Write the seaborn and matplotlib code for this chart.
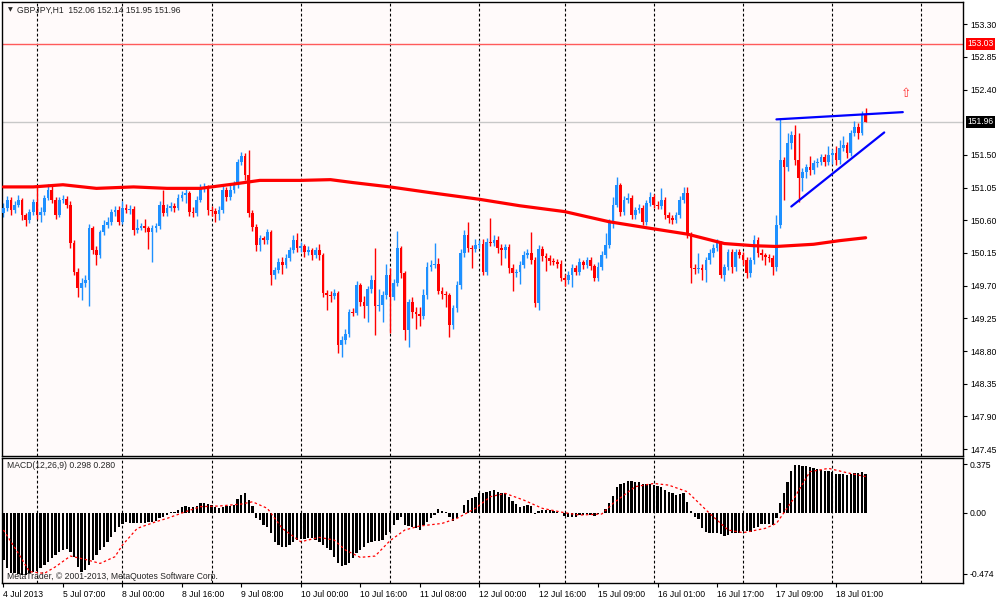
import matplotlib
matplotlib.use('Agg')
import matplotlib.pyplot as plt
import matplotlib.transforms as mtransforms
import numpy as np
import seaborn as sns

sns.set_style('white')
plt.rcParams['font.family'] = ['Liberation Sans', 'DejaVu Sans']

# GBPJPY H1 candles, 4 Jul 15:00 .. 18 Jul 09:00
first_open = 150.70
closes = [
    150.77, 150.88, 150.74, 150.81, 150.88, 150.67, 150.60, 150.71, 150.85, 150.67,
    150.71, 150.91, 151.02, 150.88, 150.67, 150.88, 150.89, 150.81, 150.29, 149.89,
    149.67, 149.74, 149.78, 150.49, 150.19, 150.12, 150.44, 150.54, 150.58, 150.71,
    150.74, 150.58, 150.77, 150.74, 150.76, 150.47, 150.49, 150.52, 150.49, 150.44,
    150.49, 150.52, 150.81, 150.70, 150.77, 150.80, 150.77, 150.91, 150.95, 150.98,
    150.71, 150.70, 150.88, 151.04, 151.06, 150.74, 150.73, 150.69, 150.74, 151.02,
    150.92, 151.02, 151.09, 151.40, 151.49, 151.22, 150.70, 150.51, 150.26, 150.36,
    150.33, 150.44, 149.85, 149.92, 150.03, 149.98, 150.08, 150.19, 150.33, 150.22,
    150.25, 150.16, 150.19, 150.12, 150.19, 150.12, 149.60, 149.57, 149.56, 149.60,
    148.88, 148.95, 149.03, 149.34, 149.33, 149.71, 149.47, 149.42, 149.65, 149.78,
    149.42, 149.43, 149.57, 149.85, 149.54, 149.74, 150.22, 149.87, 149.09, 149.47,
    149.34, 149.31, 149.28, 149.57, 149.96, 149.99, 150.00, 149.63, 149.58, 149.57,
    149.16, 149.39, 149.71, 150.15, 150.40, 150.22, 150.20, 150.26, 150.28, 149.89,
    150.30, 150.29, 150.33, 150.22, 150.19, 150.23, 149.94, 149.87, 149.89, 149.98,
    150.12, 150.15, 150.05, 149.46, 150.20, 150.11, 150.08, 150.04, 150.03, 150.00,
    149.81, 149.78, 149.85, 149.94, 149.89, 150.03, 149.98, 150.05, 149.97, 149.81,
    149.96, 150.12, 150.26, 150.56, 150.81, 151.09, 150.71, 150.88, 150.91, 150.67,
    150.74, 150.77, 150.58, 150.84, 150.92, 150.81, 150.80, 150.88, 150.67, 150.63,
    150.60, 150.67, 150.88, 150.98, 150.40, 149.94, 149.93, 149.95, 149.92, 150.05,
    150.15, 150.22, 150.29, 149.85, 149.96, 150.16, 149.96, 150.16, 150.12, 150.05,
    149.87, 150.05, 150.33, 150.15, 150.12, 150.09, 150.08, 149.96, 150.54, 151.43,
    151.33, 151.66, 151.77, 151.43, 151.18, 151.27, 151.33, 151.29, 151.39, 151.40,
    151.47, 151.40, 151.50, 151.53, 151.43, 151.60, 151.64, 151.53, 151.80, 151.89,
    151.80, 152.06, 151.96,
]
highs = [
    150.84, 150.93, 150.92, 150.87, 150.95, 150.91, 150.70, 150.75, 150.90, 151.06,
    150.78, 150.95, 151.10, 151.08, 150.92, 150.92, 150.95, 150.94, 150.86, 150.33,
    149.95, 149.80, 149.84, 150.55, 150.52, 150.24, 150.47, 150.60, 150.65, 150.76,
    150.80, 150.80, 150.86, 150.82, 150.81, 150.80, 150.62, 150.56, 150.62, 150.52,
    150.53, 150.56, 150.86, 151.02, 150.82, 150.85, 150.84, 150.96, 151.00, 151.03,
    151.01, 150.78, 150.93, 151.10, 151.12, 151.08, 150.80, 150.77, 150.80, 151.07,
    151.06, 151.08, 151.14, 151.45, 151.54, 151.53, 151.57, 150.74, 150.55, 150.40,
    150.38, 150.48, 150.47, 149.96, 150.08, 150.10, 150.13, 150.23, 150.40, 150.42,
    150.30, 150.28, 150.24, 150.22, 150.23, 150.28, 150.15, 149.64, 149.62, 149.65,
    149.63, 149.00, 149.10, 149.38, 149.39, 149.76, 149.74, 149.56, 149.70, 149.84,
    150.22, 149.66, 149.62, 150.00, 149.94, 149.79, 150.45, 150.25, 149.90, 149.52,
    149.55, 149.40, 149.40, 149.65, 150.03, 150.05, 150.29, 150.08, 149.68, 149.62,
    149.60, 149.44, 149.76, 150.20, 150.46, 150.58, 150.26, 150.34, 150.33, 150.34,
    150.36, 150.63, 150.40, 150.38, 150.28, 150.28, 150.27, 150.00, 149.93, 150.04,
    150.18, 150.20, 150.44, 150.10, 150.26, 150.24, 150.15, 150.12, 150.08, 150.07,
    150.05, 149.86, 149.90, 150.00, 149.98, 150.08, 150.06, 150.10, 150.09, 150.00,
    150.02, 150.18, 150.42, 150.62, 150.92, 151.20, 151.12, 150.93, 150.97, 150.95,
    150.79, 150.83, 150.81, 150.88, 150.99, 150.96, 150.86, 151.05, 150.92, 150.71,
    150.68, 150.72, 150.93, 151.06, 151.06, 150.44, 150.00, 150.15, 150.00, 150.10,
    150.20, 150.27, 150.34, 150.32, 150.00, 150.20, 150.20, 150.20, 150.20, 150.16,
    150.09, 150.10, 150.40, 150.37, 150.20, 150.15, 150.14, 150.12, 150.67, 152.01,
    151.47, 151.80, 151.83, 151.91, 151.80, 151.32, 151.38, 151.48, 151.43, 151.46,
    151.52, 151.52, 151.62, 151.58, 151.62, 151.70, 151.76, 151.68, 151.85, 151.97,
    151.94, 152.10, 152.14,
]
lows = [
    150.64, 150.73, 150.68, 150.70, 150.78, 150.60, 150.52, 150.56, 150.68, 150.62,
    150.58, 150.68, 150.88, 150.84, 150.62, 150.64, 150.84, 150.77, 150.22, 149.85,
    149.54, 149.50, 149.68, 149.42, 150.14, 149.98, 150.08, 150.40, 150.50, 150.54,
    150.66, 150.53, 150.55, 150.70, 150.69, 150.40, 150.42, 150.46, 150.44, 150.20,
    150.02, 150.44, 150.48, 150.66, 150.66, 150.73, 150.72, 150.74, 150.87, 150.84,
    150.66, 150.64, 150.66, 150.85, 150.99, 150.68, 150.66, 150.57, 150.60, 150.70,
    150.86, 150.88, 150.98, 151.05, 151.36, 151.16, 150.64, 150.45, 150.18, 150.18,
    150.28, 150.28, 149.71, 149.79, 149.88, 149.86, 149.94, 150.04, 150.15, 150.16,
    150.17, 150.10, 150.12, 150.06, 150.08, 150.06, 149.55, 149.36, 149.48, 149.52,
    148.77, 148.72, 148.90, 148.99, 149.28, 149.30, 149.42, 149.25, 149.20, 149.60,
    149.02, 149.35, 149.20, 149.52, 149.05, 149.50, 149.70, 149.80, 148.95, 148.85,
    149.25, 149.10, 149.14, 149.24, 149.52, 149.90, 149.94, 149.58, 149.52, 149.40,
    148.99, 149.10, 149.34, 149.66, 150.10, 150.16, 149.95, 150.16, 150.22, 149.84,
    149.85, 150.25, 150.25, 150.15, 149.98, 150.08, 149.88, 149.62, 149.82, 149.72,
    149.95, 150.08, 150.00, 149.40, 149.37, 150.04, 149.90, 149.98, 149.98, 149.94,
    149.76, 149.70, 149.72, 149.68, 149.84, 149.84, 149.93, 149.94, 149.92, 149.76,
    149.77, 149.92, 150.08, 150.22, 150.50, 150.78, 150.66, 150.67, 150.84, 150.62,
    150.62, 150.70, 150.54, 150.54, 150.80, 150.77, 150.75, 150.76, 150.62, 150.56,
    150.55, 150.56, 150.63, 150.84, 150.35, 149.74, 149.86, 149.88, 149.78, 149.75,
    150.00, 150.10, 150.18, 149.80, 149.76, 149.92, 149.88, 149.90, 150.08, 149.98,
    149.80, 149.82, 150.00, 150.10, 150.06, 149.98, 150.02, 149.85, 149.90, 150.50,
    150.88, 151.28, 151.58, 151.36, 150.85, 151.00, 151.18, 151.22, 151.24, 151.34,
    151.36, 151.35, 151.36, 151.38, 151.36, 151.38, 151.55, 151.46, 151.48, 151.76,
    151.72, 151.78, 151.95,
]

# moving average (thick red line), read at a few bars
ma_bars = [0, 8, 16, 25, 35, 44, 53, 62, 69, 80, 88, 94, 104, 115, 128, 139,
           151, 163, 174, 184, 194, 202, 208, 218, 225, 232]
ma_values = [151.06, 151.06, 151.09, 151.04, 151.06, 151.04, 151.04, 151.10,
             151.15, 151.15, 151.16, 151.12, 151.06, 150.98, 150.89, 150.80,
             150.72, 150.58, 150.49, 150.41, 150.28, 150.25, 150.24, 150.27,
             150.32, 150.36]

# MACD(12,26,9) histogram, one value per candle
macd_hist = [
    -0.367, -0.432, -0.465, -0.470, -0.475, -0.483, -0.483, -0.470, -0.457, -0.450,
    -0.432, -0.406, -0.380, -0.354, -0.328, -0.302, -0.289, -0.284, -0.302, -0.341,
    -0.419, -0.457, -0.444, -0.406, -0.367, -0.328, -0.289, -0.264, -0.225, -0.186,
    -0.147, -0.114, -0.088, -0.070, -0.078, -0.078, -0.078, -0.078, -0.078, -0.070,
    -0.070, -0.062, -0.044, -0.031, -0.018, 0.002, 0.008, 0.021, 0.041, 0.052,
    0.047, 0.047, 0.052, 0.072, 0.072, 0.067, 0.059, 0.041, 0.034, 0.047,
    0.052, 0.052, 0.059, 0.103, 0.137, 0.150, 0.098, 0.052, -0.044, -0.057,
    -0.096, -0.109, -0.155, -0.225, -0.251, -0.264, -0.264, -0.251, -0.225, -0.212,
    -0.207, -0.207, -0.199, -0.199, -0.212, -0.225, -0.251, -0.276, -0.289, -0.341,
    -0.393, -0.413, -0.406, -0.388, -0.354, -0.315, -0.289, -0.264, -0.238, -0.225,
    -0.220, -0.220, -0.212, -0.173, -0.147, -0.096, -0.057, -0.031, -0.096, -0.103,
    -0.109, -0.121, -0.134, -0.096, -0.070, -0.044, -0.018, 0.026, 0.016, 0.008,
    -0.031, -0.062, -0.044, -0.005, 0.059, 0.098, 0.116, 0.124, 0.155, 0.150,
    0.163, 0.171, 0.176, 0.163, 0.155, 0.150, 0.119, 0.093, 0.067, 0.047,
    0.052, 0.059, 0.052, -0.010, 0.016, 0.021, 0.021, 0.021, 0.016, 0.008,
    -0.005, -0.026, -0.036, -0.031, -0.036, -0.018, -0.018, -0.013, -0.018, -0.023,
    -0.010, 0.000, 0.026, 0.078, 0.129, 0.202, 0.220, 0.233, 0.248, 0.248,
    0.240, 0.240, 0.220, 0.220, 0.220, 0.214, 0.207, 0.202, 0.176, 0.163,
    0.150, 0.137, 0.145, 0.150, 0.085, 0.016, -0.031, -0.052, -0.121, -0.147,
    -0.155, -0.155, -0.155, -0.168, -0.181, -0.173, -0.160, -0.160, -0.160, -0.142,
    -0.140, -0.147, -0.121, -0.114, -0.088, -0.088, -0.088, -0.096, -0.044, 0.072,
    0.155, 0.240, 0.326, 0.370, 0.370, 0.364, 0.362, 0.357, 0.344, 0.336,
    0.331, 0.326, 0.326, 0.318, 0.300, 0.300, 0.300, 0.292, 0.300, 0.305,
    0.305, 0.318, 0.298,
]
signal_bars = [0, 4, 7, 11, 14, 18, 22, 26, 30, 32, 36, 41, 44, 49, 53, 58, 64,
               67, 71, 75, 80, 85, 89, 92, 96, 100, 104, 108, 112, 118, 122, 127,
               131, 135, 140, 145, 151, 155, 161, 164, 170, 175, 179, 184, 190,
               195, 199, 205, 208, 213, 217, 222, 227, 232]
signal_values = [-0.134, -0.315, -0.457, -0.470, -0.419, -0.336, -0.362, -0.393,
                 -0.341, -0.251, -0.121, -0.070, -0.044, 0.008, 0.047, 0.052,
                 0.067, 0.085, 0.034, -0.121, -0.225, -0.191, -0.212, -0.289,
                 -0.346, -0.336, -0.217, -0.134, -0.103, -0.083, -0.044, 0.034,
                 0.124, 0.150, 0.098, 0.034, 0.000, -0.018, -0.010, 0.072, 0.202,
                 0.227, 0.214, 0.163, -0.005, -0.134, -0.155, -0.121, -0.083,
                 0.124, 0.318, 0.344, 0.310, 0.280]

time_ticks = [0, 16, 32, 48, 64, 80, 96, 112, 128, 144, 160, 176, 192, 208, 224]
time_labels = ['4 Jul 2013', '5 Jul 07:00', '8 Jul 00:00', '8 Jul 16:00',
               '9 Jul 08:00', '10 Jul 00:00', '10 Jul 16:00', '11 Jul 08:00',
               '12 Jul 00:00', '12 Jul 16:00', '15 Jul 09:00', '16 Jul 01:00',
               '16 Jul 17:00', '17 Jul 09:00', '18 Jul 01:00']
day_starts = [9, 32, 56, 80, 104, 128, 151, 175, 199, 223, 247]
price_ticks = [153.30, 152.85, 152.40, 151.50, 151.05, 150.60, 150.15,
               149.70, 149.25, 148.80, 148.35, 147.90, 147.45]
macd_ticks = [0.375, 0.0, -0.474]
macd_tick_labels = ['0.375', '0.00', '-0.474']
level_price = 153.03
last_price = 151.96
upper_bars, upper_prices = [208, 242], [151.99, 152.09]
lower_bars, lower_prices = [212, 237], [150.79, 151.81]
arrow_bar, arrow_price = 242.8, 152.35

BULL = '#1E90FF'
BEAR = '#FF0000'
BG = '#FFFAFA'
FS = 6.2

fig = plt.figure(figsize=(10, 6), dpi=100)
fig.patch.set_facecolor('white')
ax = fig.add_axes([0.002, 0.24, 0.961, 0.7567])
axm = fig.add_axes([0.002, 0.0283, 0.961, 0.2083])

# ---- price panel
ax.set_facecolor(BG)
n = len(closes)
idx = np.arange(n)
opens = np.array([first_open] + closes[:-1])
c = np.array(closes)
up = c >= opens
colors = np.where(up, BULL, BEAR)
body_low = np.minimum(opens, c)
body_h = np.maximum(np.abs(c - opens), 0.012)

for b in day_starts:
    ax.axvline(b, color='black', lw=0.8, ls=(0, (2.5, 2)), zorder=1)
ax.axhline(level_price, color='#FF5A5A', lw=1, zorder=1)
ax.axhline(last_price, color='#C8C8C8', lw=1, zorder=1)

ax.vlines(idx, lows, highs, colors=colors, lw=1, zorder=2)
ax.bar(idx, body_h, bottom=body_low, width=0.72, color=colors, zorder=3,
       linewidth=0)

sns.lineplot(x=ma_bars, y=ma_values, ax=ax, color='#FF0000', linewidth=2.3,
             zorder=4, legend=False)
ax.plot(upper_bars, upper_prices, color='#0000FF', lw=1.6, zorder=5)
ax.plot(lower_bars, lower_prices, color='#0000FF', lw=1.6, zorder=5)
ax.text(arrow_bar, arrow_price, '\u21e7', color='#FF3030', fontsize=9,
        ha='center', va='center', family='DejaVu Sans', zorder=5)

ax.set_xlim(-0.4, 258.2)
ax.set_ylim(147.354, 153.607)
ax.set_xticks([])
ax.yaxis.tick_right()
ax.set_yticks(price_ticks)
ax.set_yticklabels(['%.2f' % p for p in price_ticks])
ax.tick_params(axis='y', direction='out', length=3, width=0.8, pad=2,
               labelsize=FS, colors='black', right=True)
ax.set_xlabel('')
ax.set_ylabel('')

trans = mtransforms.blended_transform_factory(ax.transAxes, ax.transData)
ax.text(1.0045, level_price, '%.2f' % level_price, transform=trans, ha='left',
        va='center', fontsize=FS, color='white', clip_on=False, zorder=6,
        bbox=dict(boxstyle='square,pad=0.18', fc='#FF0000', ec='none'))
ax.text(1.0045, last_price, '%.2f' % last_price, transform=trans, ha='left',
        va='center', fontsize=FS, color='white', clip_on=False, zorder=6,
        bbox=dict(boxstyle='square,pad=0.18', fc='black', ec='none'))

fig.text(0.008, 0.983, '\u25bc', fontsize=4.5, va='center', ha='left',
         family='DejaVu Sans')
fig.text(0.017, 0.983, 'GBPJPY,H1  152.06 152.14 151.95 151.96', fontsize=FS,
         va='center', ha='left')

# ---- MACD panel
axm.set_facecolor(BG)
for b in day_starts:
    axm.axvline(b, color='black', lw=0.8, ls=(0, (2.5, 2)), zorder=1)
axm.bar(np.arange(len(macd_hist)), macd_hist, width=0.62, color='black',
        linewidth=0, zorder=3)
sns.lineplot(x=signal_bars, y=signal_values, ax=axm, color='#FF0000',
             linewidth=0.9, linestyle=(0, (2, 2)), zorder=4, legend=False)
axm.text(0.005, 0.944, 'MACD(12,26,9) 0.298 0.280', transform=axm.transAxes,
         fontsize=FS, va='center', ha='left', zorder=2)
axm.text(0.005, 0.05, 'MetaTrader, \u00a9 2001-2013, MetaQuotes Software Corp.',
         transform=axm.transAxes, fontsize=FS, va='center', ha='left', zorder=2)

axm.set_xlim(-0.4, 258.2)
axm.set_ylim(-0.545, 0.424)
axm.yaxis.tick_right()
axm.set_yticks(macd_ticks)
axm.set_yticklabels(macd_tick_labels)
axm.set_xticks(time_ticks)
axm.set_xticklabels(time_labels)
for lab in axm.get_xticklabels():
    lab.set_ha('left')
axm.tick_params(axis='both', direction='out', length=3, width=0.8, pad=2,
                labelsize=FS, colors='black', right=True, bottom=True)
axm.set_xlabel('')
axm.set_ylabel('')

for a in (ax, axm):
    for s in a.spines.values():
        s.set_color('black')
        s.set_linewidth(1)

fig.savefig('out.png', dpi=100, facecolor='white')
